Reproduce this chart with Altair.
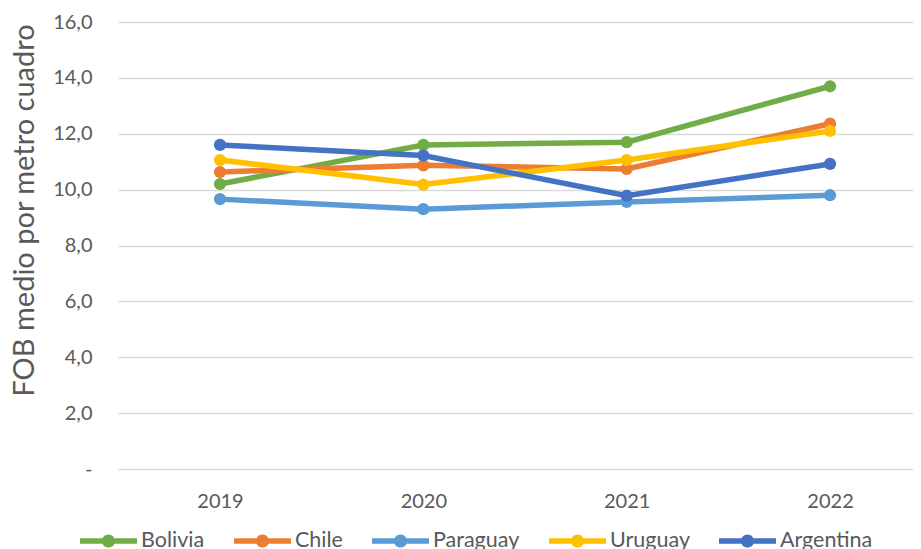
import altair as alt
import pandas as pd

years = [2019, 2020, 2021, 2022]
series = ["Bolivia", "Chile", "Paraguay", "Uruguay", "Argentina"]
bolivia = [10.2, 11.6, 11.7, 13.7]
chile = [10.63, 10.87, 10.74, 12.36]
paraguay = [9.66, 9.3, 9.56, 9.8]
uruguay = [11.06, 10.18, 11.06, 12.1]
argentina = [11.6, 11.22, 9.78, 10.92]
colors = ["#70AD47", "#ED7D31", "#5B9BD5", "#FFC000", "#4472C4"]
y_ticks = [0, 2, 4, 6, 8, 10, 12, 14, 16]

rows = []
for name, vals in zip(series, [bolivia, chile, paraguay, uruguay, argentina]):
    for yr, v in zip(years, vals):
        rows.append({"year": yr, "pais": name, "valor": v})
df = pd.DataFrame(rows)

GRAY = "#595959"
FONT = "Lato"

x_enc = alt.X(
    "year:Q",
    scale=alt.Scale(domain=[2018.4984, 2022.408], nice=False, zero=False),
    axis=alt.Axis(
        title=None, values=years, format="d", domain=False, ticks=False, tickSize=0,
        grid=False, labelFont=FONT, labelFontSize=20, labelColor=GRAY, labelPadding=22,
        labelAngle=0,
    ),
)
y_enc = alt.Y(
    "valor:Q",
    scale=alt.Scale(domain=[0, 16], nice=False, zero=True),
    axis=alt.Axis(
        title="FOB medio por metro cuadro", values=y_ticks,
        labelExpr="datum.value == 0 ? '-\u00a0\u00a0' : replace(format(datum.value, '.1f'), '.', ',')",
        domain=False, ticks=False, tickSize=0, grid=True, gridColor="#D9D9D9", gridWidth=1.3,
        labelFont=FONT, labelFontSize=20, labelColor=GRAY, labelPadding=26,
        titleFont=FONT, titleFontSize=29, titleFontWeight="normal", titleColor=GRAY,
        titleX=-94, titleY=188, titleAlign="center", titleBaseline="middle", titleAngle=270,
    ),
)

legend_path = ("M-1,-0.1L1,-0.1L1,0.1L-1,0.1Z"
               "M0.23,0A0.23,0.23 0 1,1 -0.23,0A0.23,0.23 0 1,1 0.23,0Z")

legend = alt.Legend(
    title=None, orient="none", legendX=-38, legendY=490.5,
    direction="horizontal", symbolType=legend_path, symbolSize=3249,
    symbolStrokeWidth=0, symbolOpacity=1,
    labelFont=FONT, labelFontSize=21.5, labelColor=GRAY, labelOffset=4,
    columnPadding=29, padding=0, labelLimit=0,
)

color_scale = alt.Scale(domain=series, range=colors)

lines = alt.Chart(df).mark_line(strokeWidth=5.5).encode(
    x=x_enc, y=y_enc,
    color=alt.Color("pais:N", scale=color_scale, legend=legend),
    detail="pais:N",
)
pts = alt.Chart(df).mark_point(filled=True, size=150, opacity=1, strokeWidth=0).encode(
    x=x_enc, y=y_enc,
    color=alt.Color("pais:N", scale=color_scale, legend=legend),
)

chart = alt.layer(lines, pts).properties(
    width=795, height=447,
    autosize=alt.AutoSizeParams(type="none"),
    padding={"left": 110, "top": 14, "right": 0, "bottom": 80},
    background="white",
).configure_view(strokeWidth=0)

chart.save("out.html", embed_options={"renderer": "svg", "actions": False})
